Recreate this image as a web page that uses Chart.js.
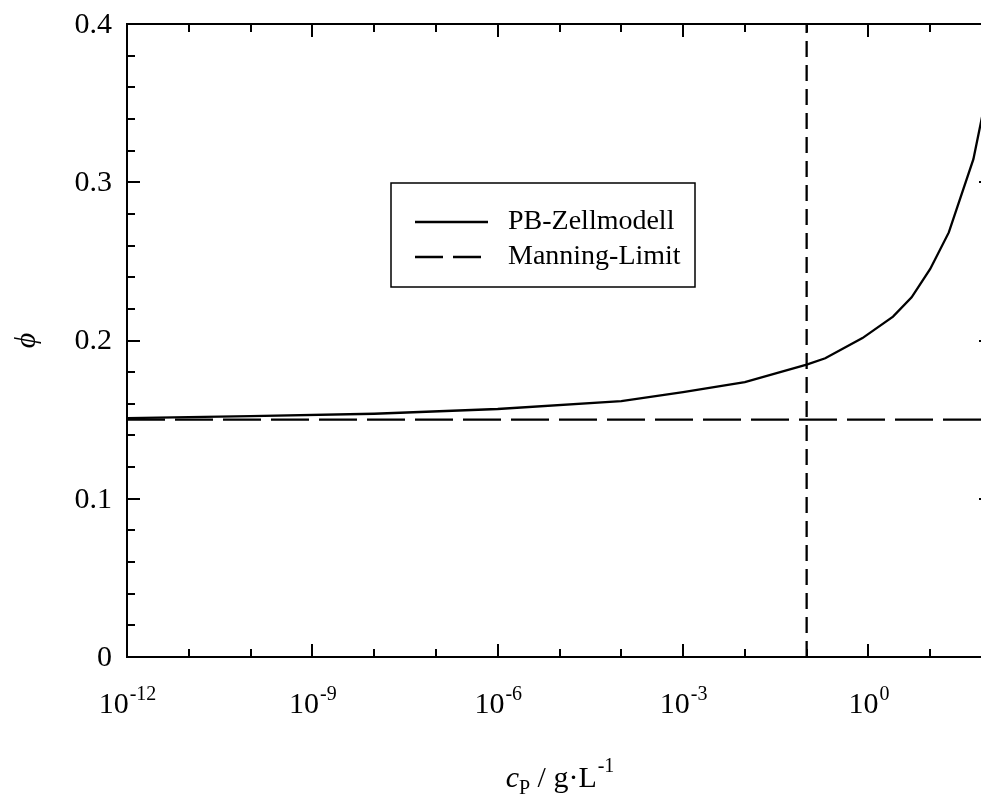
<!DOCTYPE html>
<html>
<head>
<meta charset="utf-8">
<script src="https://cdn.jsdelivr.net/npm/chart.js@4"></script>
<style>
  html, body { margin: 0; padding: 0; background: #fff; overflow: hidden; }
  #wrap { width: 1000px; height: 794px; }
</style>
</head>
<body>
<div id="wrap"><canvas id="myChart" width="1000" height="794"></canvas></div>
<script>
// PB cell model curve
const cpValues = [1e-12, 1e-10, 1e-8, 1e-6, 1e-4, 1e-3, 1e-2, 1e-1, 0.2, 0.8, 2.5, 5, 10, 20, 50, 100];
const phiValues = [0.1509, 0.1522, 0.1537, 0.1567, 0.1617, 0.1674, 0.1737, 0.1848, 0.1888, 0.2015, 0.2151, 0.2273, 0.2452, 0.2683, 0.3146, 0.372];

const manningLimit = 0.15;
const markerCp = 0.1;

const xMin = 1e-12;
const xMax = 1e2;
const yMin = 0;
const yMax = 0.4;

const yTickLabels = [0, 0.1, 0.2, 0.3, 0.4];
const xTickExponents = [-12, -9, -6, -3, 0];

const FONT = '"Liberation Serif", "Times New Roman", serif';

const curve = cpValues.map((c, i) => ({ x: c, y: phiValues[i] }));

function drawPow(ctx, base, exp, cx, baseline) {
  ctx.font = "30px " + FONT;
  const wb = ctx.measureText(base).width;
  ctx.font = "20px " + FONT;
  const we = ctx.measureText(exp).width;
  let x = cx - (wb + we) / 2;
  ctx.textAlign = "left";
  ctx.textBaseline = "alphabetic";
  ctx.font = "30px " + FONT;
  ctx.fillText(base, x, baseline);
  ctx.font = "20px " + FONT;
  ctx.fillText(exp, x + wb + 1, baseline - 13);
}

const framePlugin = {
  id: "frame",
  afterDatasetsDraw(chart) {
    const ctx = chart.ctx;
    const a = chart.chartArea;
    const xs = chart.scales.x;
    const ys = chart.scales.y;
    ctx.save();
    ctx.strokeStyle = "#000";
    ctx.fillStyle = "#000";
    ctx.lineWidth = 2;
    ctx.strokeRect(a.left, a.top, a.right - a.left, a.bottom - a.top);

    // x ticks, every decade, inward on top and bottom
    for (let e = -12; e <= 2; e++) {
      const px = Math.round(xs.getPixelForValue(Math.pow(10, e)));
      const len = e % 3 === 0 ? 13 : 8;
      ctx.beginPath();
      ctx.moveTo(px, a.bottom);
      ctx.lineTo(px, a.bottom - len);
      ctx.moveTo(px, a.top);
      ctx.lineTo(px, a.top + len);
      ctx.stroke();
    }
    // y ticks every 0.02, inward on left and right
    for (let k = 0; k <= 20; k++) {
      const py = Math.round(ys.getPixelForValue(k * 0.02));
      const len = k % 5 === 0 ? 13 : 8;
      ctx.beginPath();
      ctx.moveTo(a.left, py);
      ctx.lineTo(a.left + len, py);
      ctx.moveTo(a.right, py);
      ctx.lineTo(a.right - len, py);
      ctx.stroke();
    }

    // y tick labels
    ctx.font = "30px " + FONT;
    ctx.textAlign = "right";
    ctx.textBaseline = "middle";
    yTickLabels.forEach(v => {
      ctx.fillText(String(v), a.left - 15, ys.getPixelForValue(v) + 1);
    });

    // x tick labels
    xTickExponents.forEach(e => {
      drawPow(ctx, "10", String(e), xs.getPixelForValue(Math.pow(10, e)), a.bottom + 56);
    });

    // x title: c_P / g·L^-1
    const cx = (a.left + a.right) / 2;
    const base = a.bottom + 130;
    ctx.textAlign = "left";
    ctx.textBaseline = "alphabetic";
    ctx.font = "italic 30px " + FONT;
    const w1 = ctx.measureText("c").width;
    ctx.font = "20px " + FONT;
    const w2 = ctx.measureText("P").width;
    ctx.font = "30px " + FONT;
    const w3 = ctx.measureText(" / g\u00b7L").width;
    ctx.font = "20px " + FONT;
    const w4 = ctx.measureText("-1").width;
    let x = cx - (w1 + w2 + w3 + w4) / 2;
    ctx.font = "italic 30px " + FONT;
    ctx.fillText("c", x, base);
    x += w1;
    ctx.font = "20px " + FONT;
    ctx.fillText("P", x, base + 7);
    x += w2;
    ctx.font = "30px " + FONT;
    ctx.fillText(" / g\u00b7L", x, base);
    x += w3;
    ctx.font = "20px " + FONT;
    ctx.fillText("-1", x + 1, base - 15);

    // y title
    ctx.save();
    ctx.translate(27, (a.top + a.bottom) / 2);
    ctx.rotate(-Math.PI / 2);
    ctx.font = "italic 30px " + FONT;
    ctx.textAlign = "center";
    ctx.textBaseline = "middle";
    ctx.fillText("\u03d5", 0, 0);
    ctx.restore();

    // legend box
    ctx.lineWidth = 1.5;
    ctx.strokeRect(391, 183, 304, 104);
    const items = chart.data.datasets.filter(d => d.label);
    items.forEach((d, i) => {
      const ly = 222 + i * 35;
      ctx.save();
      ctx.lineWidth = d.borderWidth;
      ctx.setLineDash(d.borderDash && d.borderDash.length ? [28, 10] : []);
      ctx.beginPath();
      ctx.moveTo(415, ly);
      ctx.lineTo(488, ly);
      ctx.stroke();
      ctx.restore();
      ctx.font = "28px " + FONT;
      ctx.textAlign = "left";
      ctx.textBaseline = "middle";
      ctx.fillText(d.label, 508, ly);
    });
    ctx.restore();
  }
};

const config = {
  type: "line",
  data: {
    datasets: [
      {
        label: "PB-Zellmodell",
        data: curve,
        borderColor: "#000",
        borderWidth: 2.3,
        pointRadius: 0,
        tension: 0,
        fill: false
      },
      {
        label: "Manning-Limit",
        data: [{ x: xMin, y: manningLimit }, { x: xMax, y: manningLimit }],
        borderColor: "#000",
        borderWidth: 2.3,
        borderDash: [38, 10],
        pointRadius: 0,
        fill: false
      },
      {
        data: [{ x: markerCp, y: yMin }, { x: markerCp, y: yMax }],
        borderColor: "#000",
        borderWidth: 2.3,
        borderDash: [16, 8],
        pointRadius: 0,
        fill: false
      }
    ]
  },
  options: {
    responsive: false,
    animation: false,
    layout: { padding: { left: 127, right: 8, top: 24, bottom: 137 } },
    plugins: { legend: { display: false }, tooltip: { enabled: false } },
    scales: {
      x: { type: "logarithmic", min: xMin, max: xMax, display: false },
      y: { type: "linear", min: yMin, max: yMax, display: false }
    }
  },
  plugins: [framePlugin]
};

const myChart = new Chart(document.getElementById("myChart"), config);
</script>
</body>
</html>
